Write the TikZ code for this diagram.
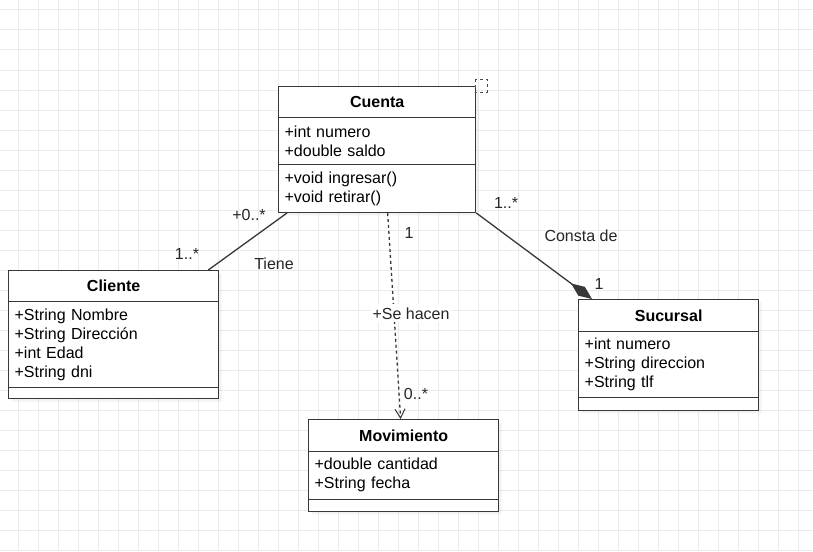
\documentclass[tikz,border=0pt]{standalone}
\usepackage{fontspec}
\setmainfont{Liberation Sans}
\usetikzlibrary{arrows.meta,shapes.multipart,shadows}

\newcommand{\clshead}[2]{\parbox[c][#1][c]{\linewidth}{\centering\bfseries #2}}
\newcommand{\clsbody}[2]{\parbox[c][#1][c]{\linewidth}{\raggedright #2}}

\begin{document}
\begin{tikzpicture}[
        x=1pt, y=-1pt,
        >={Straight Barb[length=9pt,width=10pt,line width=1pt]},
        font=\fontsize{16}{19}\selectfont,
        gridline/.style={draw=black!8, line width=1pt},
        classbox/.style={
          rectangle split,
          rectangle split parts=3,
          draw=black!78,
          line width=1.3pt,
          fill=white,
          inner xsep=6pt,
          inner ysep=0pt,
          anchor=north west,
          drop shadow={shadow xshift=3pt, shadow yshift=-3pt, opacity=.09}
        },
        assoc/.style={draw=black!78, line width=1.3pt},
        mult/.style={anchor=base, inner sep=0pt, text=black!85}
      ]
      \useasboundingbox (0,0) rectangle (813,551);
      \fill[white] (0,0) rectangle (813,551);
      % background grid
      \foreach \gx in {18,38,...,808}
        \draw[gridline] (\gx,0) -- (\gx,551);
      \foreach \gy in {10,30,...,550}
        \draw[gridline] (0,\gy) -- (813,\gy);

      \node[classbox, text width=185pt] (cuenta) at (278,86) {%
        \clshead{29.7pt}{Cuenta}
        \nodepart{second}\clsbody{45.7pt}{+int numero\\+double saldo}
        \nodepart{third}\clsbody{46.4pt}{+void ingresar()\\+void retirar()}};
      \node[classbox, text width=198pt] (cliente) at (8,270) {%
        \clshead{29.7pt}{Cliente}
        \nodepart{second}\clsbody{84.7pt}{+String Nombre\\+String Dirección\\+int Edad\\+String dni}
        \nodepart{third}\clsbody{9.7pt}{}};
      \node[classbox, text width=168pt] (sucursal) at (578,299) {%
        \clshead{30.4pt}{Sucursal}
        \nodepart{second}\clsbody{65pt}{+int numero\\+String direccion\\+String tlf}
        \nodepart{third}\clsbody{11.4pt}{}};
      \node[classbox, text width=178pt] (movimiento) at (308,419) {%
        \clshead{30.2pt}{Movimiento}
        \nodepart{second}\clsbody{47pt}{+double cantidad\\+String fecha}
        \nodepart{third}\clsbody{10.7pt}{}};

      \draw[black!70, line width=1pt, dash pattern=on 3pt off 3pt]
        ([xshift=-1pt,yshift=7pt]cuenta.north east) coordinate (sel)
        rectangle ++(12,13);

      % Tiene
      \draw[assoc] ([xshift=9pt]cuenta.south west) -- ([xshift=-11pt]cliente.north east);
      \node[mult] (tienea) at (249,220.5) {+0..*};
      \node[mult] (tieneb) at (187,259) {1..*};
      \node[mult] (tiene) at (274,269) {Tiene};

      % Se hacen
      \draw[assoc, dash pattern=on 3pt off 3pt, ->]
        ([xshift=10.5pt]cuenta.south) -- ([xshift=-3pt]movimiento.north);
      \node[mult] (hacena) at (409,238.5) {1};
      \node[mult, fill=white, inner xsep=2pt, inner ysep=3pt] (hacen) at (411,319) {+Se hacen};
      \node[mult] (hacenb) at (416,399) {0..*};

      % Consta de
      \draw[assoc, -{Diamond[length=26pt,width=11pt]}]
        (cuenta.south east) -- ([xshift=14pt]sucursal.north west);
      \node[mult] (constaa) at (506,208.5) {1..*};
      \node[mult] (consta) at (581,241.5) {Consta de};
      \node[mult] (constab) at (599,289) {1};
\end{tikzpicture}
\end{document}
